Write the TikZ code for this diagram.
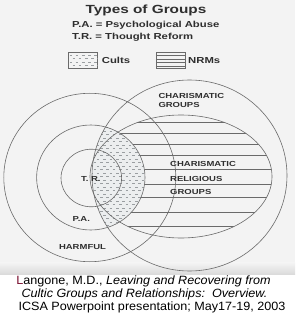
\documentclass[tikz,border=0pt]{standalone}
\usepackage{fontspec}
\setmainfont{Liberation Sans}
\newfontfamily\slidefont[FakeStretch=1.3]{Liberation Sans}
\newfontfamily\capfont[FakeStretch=1.05]{Liberation Sans}
\definecolor{ink}{HTML}{2E2E2E}
\definecolor{rulec}{HTML}{6A6A6A}
\definecolor{scan}{HTML}{F3F3F3}
\definecolor{dashc}{HTML}{9A9EA1}
\definecolor{cultbg}{HTML}{ECEEEF}
\definecolor{maroon}{HTML}{7A1030}
\tikzset{
  outline/.style={draw=rulec, line width=0.6pt},
  hatchline/.style={draw=rulec, line width=0.55pt},
  dashline/.style={draw=dashc, line width=0.5pt},
  title/.style={font=\slidefont\bfseries\fontsize{11.8}{13}\selectfont, text=ink, inner sep=0pt},
  keytext/.style={font=\slidefont\bfseries\fontsize{8.7}{10}\selectfont, text=ink, inner sep=0pt},
  label/.style={font=\slidefont\bfseries\fontsize{7.3}{9}\selectfont, text=ink, inner sep=0pt},
  legendbox/.style={draw=rulec, line width=0.5pt, minimum width=29, minimum height=16.5, inner sep=0pt},
  captext/.style={font=\capfont\fontsize{12}{14}\selectfont, text=black, inner sep=0pt}
}
\begin{document}
\begin{tikzpicture}[x=1pt,y=-1pt]
\useasboundingbox (0,0) rectangle (295,320);
\fill[white] (0,0) rectangle (295,320);
\fill[scan] (0,0) rectangle (295,263);
\shade[top color=scan, bottom color=gray!28] (0,262.9) rectangle (295,274);

% title and key
\node (title) [title, anchor=base] at (146,13.3) {Types of Groups};
\node (pakey) [keytext, anchor=base west] at (72,27.3) {P.A. = Psychological Abuse};
\node (trkey) [keytext, anchor=base west] at (72,39.3) {T.R. = Thought Reform};

% legend
\node (cultsbox) [legendbox] at (82.8,60.3) {};
\begin{scope}
  \clip (cultsbox.south west) rectangle (cultsbox.north east);
  \foreach \r in {0,...,3} {
    \pgfmathsetmacro\yy{55+3.4*\r}
    \pgfmathsetmacro\off{mod(\r,2)*3}
    \foreach \c in {0,...,4} {
      \draw[dashline] ({69.5+\off+6.2*\c},\yy) -- ++(2.6,0);
    }
  }
\end{scope}
\node (cults) [keytext, anchor=base west] at (101.7,64) {Cults};
\node (nrmbox) [legendbox] at (170.5,60.3) {};
\foreach \yy in {55.6,59,62.4,65.8} {
  \draw[hatchline] (nrmbox.west |- 0,\yy) -- (nrmbox.east |- 0,\yy);
}
\node (nrms) [keytext, anchor=base west] at (188,64) {NRMs};

% cults region: P.A. circle inside the charismatic circle
\begin{scope}
  \clip (90.8,177.5) ellipse [x radius=54.2, y radius=52.5];
  \clip (189.5,175.5) ellipse [x radius=97.5, y radius=95.5];
  \fill[cultbg] (80,115) rectangle (150,240);
  \foreach \r in {0,...,31} {
    \pgfmathsetmacro\yy{124+3.5*\r}
    \pgfmathsetmacro\off{mod(\r,2)*3.2}
    \foreach \c in {0,...,10} {
      \draw[dashline] ({84+\off+6.4*\c},\yy) -- ++(2.6,0);
    }
  }
\end{scope}

% NRM region: lines in the ellipse, outside the P.A. circle
\begin{scope}[even odd rule]
  \clip (181,176.5) ellipse [x radius=91, y radius=61.5];
  \clip (-10,-10) rectangle (305,330) (90.8,177.5) ellipse [x radius=54.2, y radius=52.5];
  \foreach \yy in {122.7,133.3,144.3,155.7,169.3,184,197.3,212,226.5} {
    \draw[hatchline] (80,\yy) -- (290,\yy);
  }
\end{scope}

% outlines
\draw[outline] (89.8,177.5) ellipse [x radius=86, y radius=84.2];
\draw[outline] (90.8,177.5) ellipse [x radius=54.2, y radius=52.5];
\draw[outline] (91.3,178) ellipse [x radius=30.3, y radius=28.8];
\draw[outline] (189.5,175.5) ellipse [x radius=97.5, y radius=95.5];
\draw[outline] (181,176.5) ellipse [x radius=91, y radius=61.5];

% labels
\node (cg1) [label, anchor=base west] at (158.3,98.7) {CHARISMATIC};
\node (cg2) [label, anchor=base west] at (158.3,107.7) {GROUPS};
\node (crg1) [label, anchor=base west] at (170,166.7) {CHARISMATIC};
\node (crg2) [label, anchor=base west] at (170,181) {RELIGIOUS};
\node (crg3) [label, anchor=base west] at (170,194.3) {GROUPS};
\node (tr) [label, anchor=base] at (90.8,181.7) {T. R.};
\node (pa) [label, anchor=base] at (81.3,221.3) {P.A.};
\node (harm) [label, anchor=base] at (82.5,249.3) {HARMFUL};

% caption
\node (cap1) [captext, anchor=base] at (143.5,284) {\textcolor{maroon}{L}angone, M.D., \textit{Leaving and Recovering from}};
\node (cap2) [captext, anchor=base] at (144.5,297.3) {\textit{Cultic Groups and Relationships:\ \ Overview.}};
\node (cap3) [captext, anchor=base] at (152,310.7) {ICSA Powerpoint presentation; May17-19, 2003};
\end{tikzpicture}
\end{document}
